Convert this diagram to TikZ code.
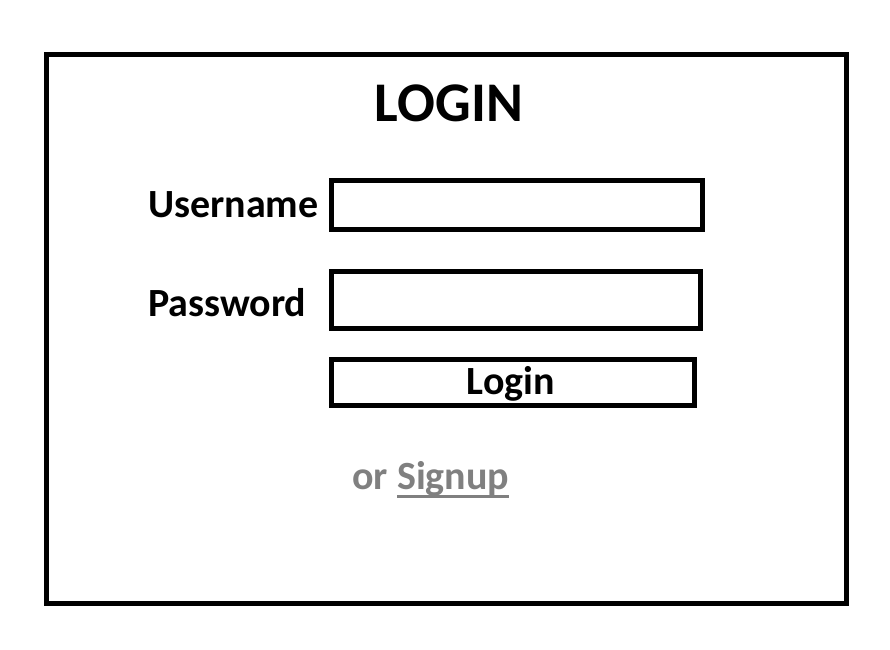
\documentclass[tikz,border=0pt]{standalone}
\usepackage{fontspec}
\setmainfont{Carlito}
\definecolor{linkgray}{HTML}{808080}
\begin{document}
\begin{tikzpicture}[x=1pt,y=-1pt,
    frame/.style={draw,line width=5pt,inner sep=0pt},
    label text/.style={inner sep=0pt,anchor=base west,font=\fontsize{40}{45}\selectfont\bfseries}]
        \useasboundingbox (0,0) rectangle (890,649);
        % window and input fields
        \node[frame,minimum width=799.5pt,minimum height=549pt] (window) at (446.25,329) {};
        \node[frame,minimum width=371pt,minimum height=49pt] (userbox) at (516.5,205) {};
        \node[frame,minimum width=369pt,minimum height=57pt] (passbox) at (516,300) {};
        \node[frame,minimum width=363pt,minimum height=46pt] (loginbtn) at (513,382) {};
        % texts
        \node[inner sep=0pt,anchor=base,font=\fontsize{56}{60}\selectfont\bfseries] (title) at (449,121) {LOGIN};
        \node[label text] (user) at (148,217) {Username};
        \node[label text] (pass) at (148,316) {Password};
        \node[label text,anchor=base] (btntext) at (511,394) {Login};
        \node[label text,text=linkgray] (or) at (352,489) {or};
        \node[label text,text=linkgray] (signup) at (397,489) {Signup};
        \draw[linkgray,line width=3pt] ([yshift=-7.5pt]signup.base west) -- ([yshift=-7.5pt]signup.base east);
    \end{tikzpicture}
\end{document}
